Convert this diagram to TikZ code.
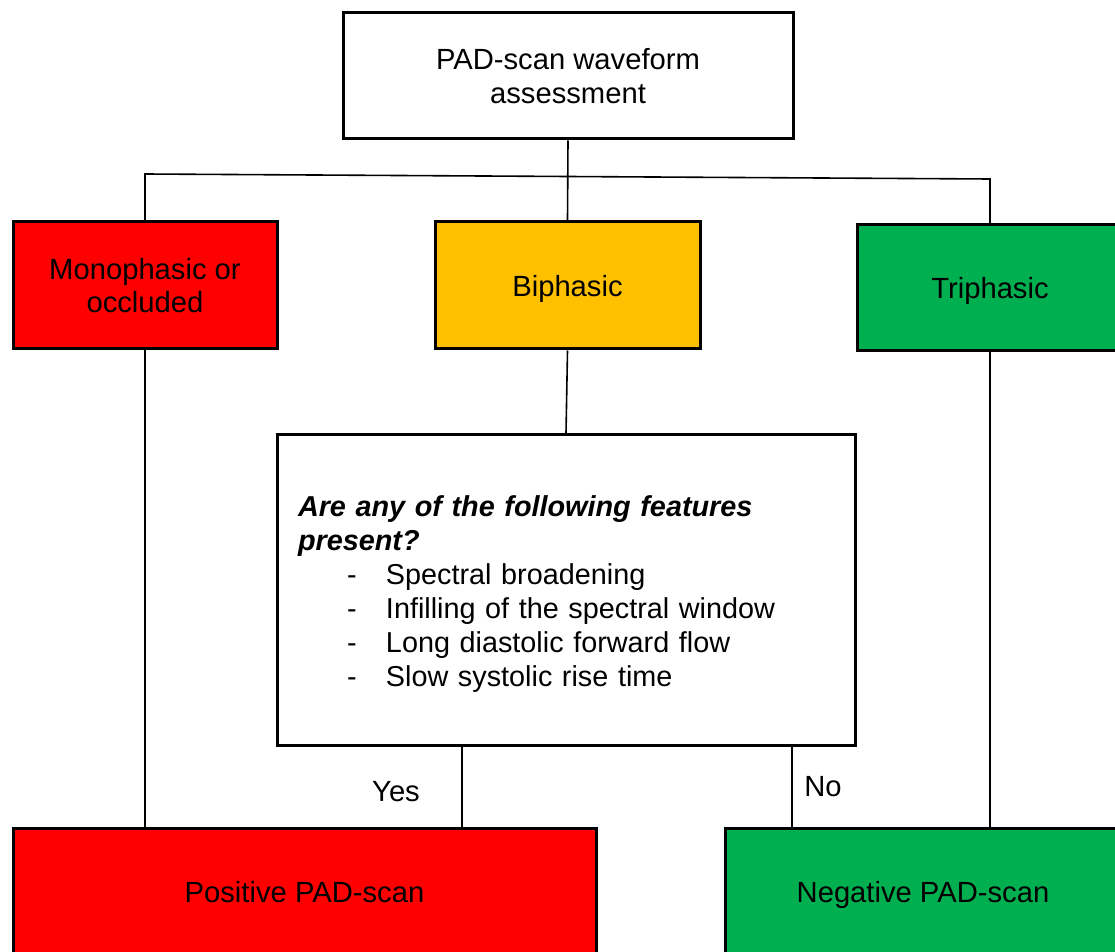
\documentclass[tikz,border=0pt]{standalone}
\usepackage{fontspec}
\setmainfont{Liberation Sans}

\begin{document}
\begin{tikzpicture}[
    x=0.5pt,
    y=-0.5pt,
    font=\fontsize{14.6}{16.8}\selectfont,
    box/.style={draw=black,line width=1.5pt,inner sep=0pt,align=center},
    single/.style={text depth=0pt},
    link/.style={draw=black,line width=0.8pt},
]
\clip (0,0) rectangle (1115,952);
% boxes
\node[box,minimum width=225pt,minimum height=63pt] (top) at (568,76) {PAD-scan waveform\\assessment};
\node[box,fill={rgb,255:red,255;green,0;blue,0},minimum width=132pt,minimum height=63.5pt] (mono) at (145,285.5) {Monophasic or\\occluded};
\node[box,single,fill={rgb,255:red,255;green,192;blue,0},minimum width=132.5pt,minimum height=63.5pt] (bi) at (567.5,285.5) {Biphasic};
\node[box,single,fill={rgb,255:red,0;green,176;blue,80},minimum width=133pt,minimum height=63pt] (tri) at (990,288) {Triphasic};
\node[box,align=left,text width=268pt,inner xsep=10.5pt,minimum height=155pt,
      font=\fontsize{14.4}{17}\selectfont] (q) at (566,590) {%
\rule{0pt}{14pt}\textbf{\textit{Are any of the following features}}\\
\textbf{\textit{present?}}\\
\hspace*{24.5pt}\makebox[19.5pt][l]{-}Spectral broadening\\
\hspace*{24.5pt}\makebox[19.5pt][l]{-}Infilling of the spectral window\\
\hspace*{24.5pt}\makebox[19.5pt][l]{-}Long diastolic forward flow\\
\hspace*{24.5pt}\makebox[19.5pt][l]{-}Slow systolic rise time};
\node[box,fill={rgb,255:red,255;green,0;blue,0},minimum width=291.5pt,minimum height=64pt] (pos) at (304.5,892) {Positive PAD-scan};
\node[box,single,fill={rgb,255:red,0;green,176;blue,80},minimum width=198pt,minimum height=64pt] (neg) at (923,892) {Negative PAD-scan};

% branch points
\coordinate (hl) at (145,174);
\coordinate (hr) at (990,179);
\coordinate (yq) at (462,745);
\coordinate (yp) at (462,828);
\coordinate (nq) at (792,745);
\coordinate (np) at (792,828);

\draw[link] (top.south) -- (bi.north);
\draw[link] (mono.north) -- (hl) -- (hr) -- (tri.north);
\draw[link] (bi.south) -- (q.north);
\draw[link] (mono.south) -- (mono.south |- pos.north);
\draw[link] (tri.south) -- (tri.south |- neg.north);
\draw[link] (yq) -- (yp);
\draw[link] (nq) -- (np);

\node (yes) at (396,792) {Yes};
\node (no) at (823,787) {No};
\end{tikzpicture}
\end{document}
